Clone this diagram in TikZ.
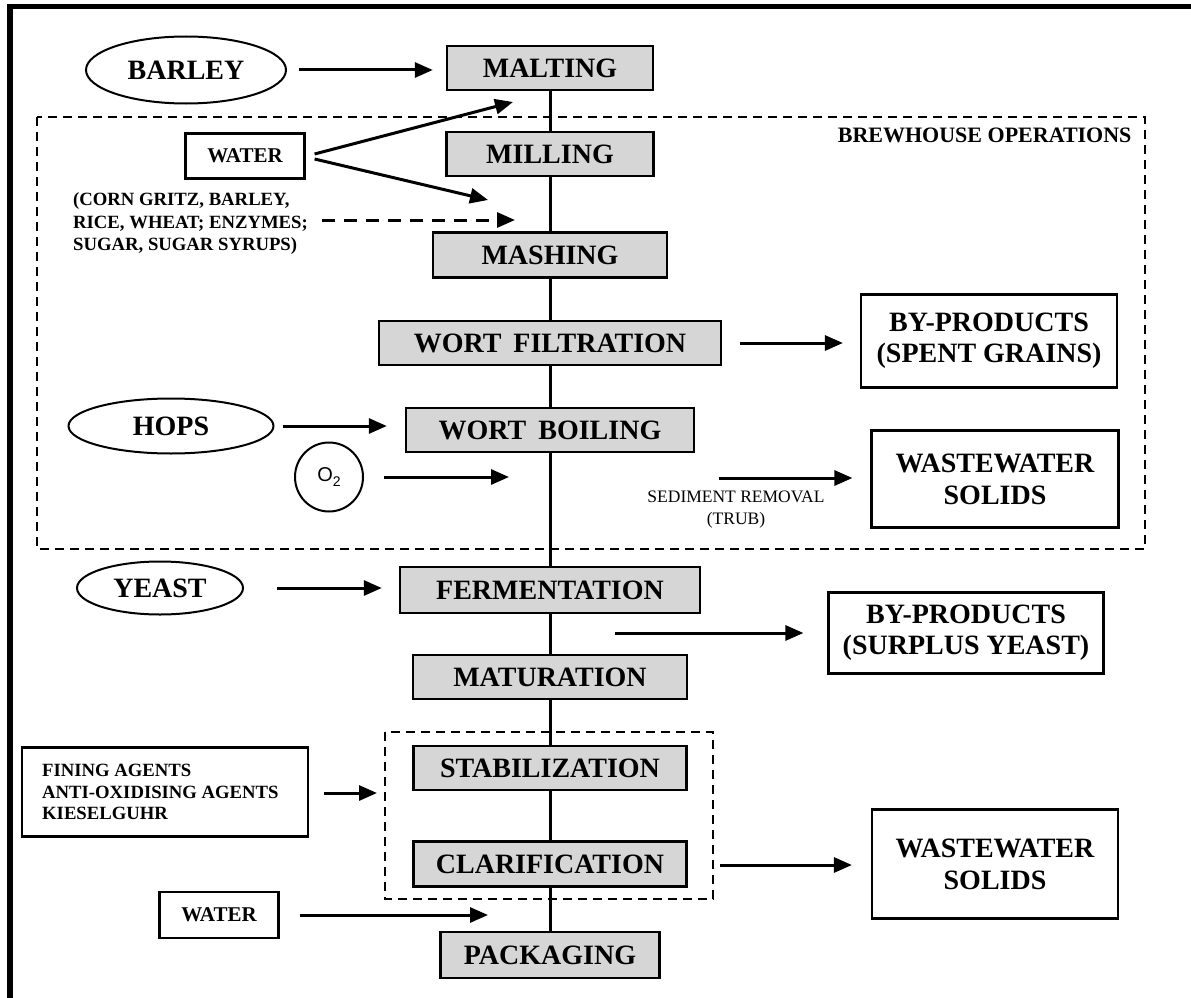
\documentclass[tikz,border=0pt]{standalone}
\usepackage{fontspec}
\setmainfont{Liberation Serif}
\newfontfamily\sansf{Liberation Sans}
\usetikzlibrary{arrows.meta,shapes.geometric}
\definecolor{boxgray}{RGB}{214,214,214}
\begin{document}
\begin{tikzpicture}[x=1pt,y=-1pt,
  proc/.style={draw, line width=2.4pt, fill=boxgray, inner sep=0pt, font=\fontsize{28}{30}\selectfont\bfseries},
  wbox/.style={draw, line width=2.2pt, fill=white, inner sep=0pt, align=center, font=\fontsize{28}{31}\selectfont\bfseries},
  oval/.style={draw, ellipse, line width=2pt, inner sep=0pt, font=\fontsize{28}{30}\selectfont\bfseries},
  arr/.style={line width=3pt, -{Triangle[length=18pt,width=15pt]}},
  darr/.style={line width=3pt, dash pattern=on 13pt off 9pt, -{Triangle[length=18pt,width=15pt]}},
  grp/.style={draw, line width=2pt, dash pattern=on 9pt off 6pt},
  flow/.style={line width=3pt}]
\useasboundingbox (0,0) rectangle (1191,998);
% frame
\fill (7,4) rectangle (1191,9);
\fill (7,4) rectangle (13,998);
% dashed groups
\draw[grp] (37,117) rectangle (1145,549);
\draw[grp] (385,732) rectangle (713,899);
\node[anchor=east, font=\fontsize{22}{24}\selectfont\bfseries] (brew) at (1135,135) {BREWHOUSE OPERATIONS};
% process chain
\node[proc, minimum width=206pt, minimum height=44pt] (malt) at (550,68) {MALTING};
\node[proc, minimum width=207pt, minimum height=44pt] (mill) at (550,154) {MILLING};
\node[proc, minimum width=234pt, minimum height=45pt] (mash) at (550,255) {MASHING};
\node[proc, minimum width=342pt, minimum height=44pt] (wf) at (550,343) {WORT\hspace{12pt}FILTRATION};
\node[proc, minimum width=288pt, minimum height=44pt] (wb) at (550,430) {WORT\hspace{12pt}BOILING};
\node[proc, minimum width=300pt, minimum height=46pt] (ferm) at (550,590) {FERMENTATION};
\node[proc, minimum width=274pt, minimum height=44pt] (mat) at (550,677) {MATURATION};
\node[proc, minimum width=273pt, minimum height=44pt] (stab) at (550,768) {STABILIZATION};
\node[proc, minimum width=273pt, minimum height=45pt] (clar) at (550,864) {CLARIFICATION};
\node[proc, minimum width=219pt, minimum height=46pt] (pack) at (550,955) {PACKAGING};
\foreach \a/\b in {malt/mill, mill/mash, mash/wf, wf/wb, wb/ferm, ferm/mat, mat/stab, stab/clar, clar/pack}
  \draw[flow] (\a.south) -- (\b.north);
% inputs
\node[oval, minimum width=200pt, minimum height=67pt] (barley) at (186,70) {BARLEY};
\node[oval, minimum width=205pt, minimum height=55pt] (hops) at (171,426) {HOPS};
\node[oval, minimum width=166pt, minimum height=53pt] (yeast) at (160,588) {YEAST};
\node[draw, ellipse, line width=2pt, minimum width=68pt, minimum height=69pt, inner sep=0pt, font=\sansf\fontsize{20}{22}\selectfont] (o2) at (329,477) {O\raisebox{-5pt}{\fontsize{14}{14}\selectfont 2}};
\node[wbox, minimum width=119pt, minimum height=45pt, font=\fontsize{21}{23}\selectfont\bfseries] (water) at (245,156) {WATER};
\node[wbox, minimum width=119pt, minimum height=46pt, font=\fontsize{21}{23}\selectfont\bfseries] (water2) at (219,915) {WATER};
\node[anchor=west, align=left, inner sep=0pt, font=\fontsize{18.7}{22.5}\selectfont\bfseries] (adj) at (73,224) {(CORN GRITZ, BARLEY,\\RICE, WHEAT; ENZYMES;\\SUGAR, SUGAR SYRUPS)};
\node[draw, line width=2.2pt, minimum width=286pt, minimum height=89pt, inner sep=0pt] (fining) at (165,792) {};
\node[anchor=west, align=left, inner sep=0pt, font=\fontsize{18.7}{21.5}\selectfont\bfseries] (fintext) at (42,792) {FINING AGENTS\\ANTI-OXIDISING AGENTS\\KIESELGUHR};
% outputs
\node[wbox, minimum width=256pt, minimum height=93pt] (spent) at (989,341) {BY-PRODUCTS\\(SPENT GRAINS)};
\node[wbox, minimum width=247pt, minimum height=97pt, font=\fontsize{28}{32}\selectfont\bfseries] (ww1) at (995,479) {WASTEWATER\\SOLIDS};
\node[wbox, minimum width=275pt, minimum height=81pt] (surplus) at (966,633) {BY-PRODUCTS\\(SURPLUS YEAST)};
\node[wbox, minimum width=246pt, minimum height=109pt, font=\fontsize{28}{32}\selectfont\bfseries] (ww2) at (995,864) {WASTEWATER\\SOLIDS};
\node[align=center, inner sep=0pt, font=\fontsize{17.5}{22}\selectfont] (sedtext) at (736,510) {SEDIMENT REMOVAL\\(TRUB)};
% free ends
\coordinate (wu) at (513,102);
\coordinate (wl) at (488,200);
\coordinate (adjend) at (515,220);
\coordinate (o2end) at (509,477);
\coordinate (sed) at (719,478);
\coordinate (fermout) at (615,633);
\coordinate (w2end) at (488,915);
\coordinate (stabgrp) at (385,793);
\coordinate (clargrp) at (713,865);
% arrows
\draw[arr] ([xshift=12pt]barley.east) -- ([xshift=-13pt]barley.east -| malt.west);
\draw[arr] ([xshift=9pt,yshift=2pt]water.east) -- (wu);
\draw[arr] ([xshift=9pt,yshift=-3pt]water.east) -- (wl);
\draw[darr] ([xshift=14pt]adj.east |- adjend) -- (adjend);
\draw[arr] ([xshift=18pt]wf.east) -- ([xshift=-17pt]wf.east -| spent.west);
\draw[arr] ([xshift=8pt]hops.east) -- ([xshift=-18pt]hops.east -| wb.west);
\draw[arr] ([xshift=20pt]o2.east) -- (o2end);
\draw[arr] (sed) -- ([xshift=-18pt]sed -| ww1.west);
\draw[arr] ([xshift=33pt]yeast.east) -- ([xshift=-17pt]yeast.east -| ferm.west);
\draw[arr] (fermout) -- ([xshift=-24pt]fermout -| surplus.west);
\draw[arr] ([xshift=15pt]fining.east |- stabgrp) -- ([xshift=-8pt]stabgrp);
\draw[arr] ([xshift=7pt]clargrp) -- ([xshift=-19pt]clargrp -| ww2.west);
\draw[arr] ([xshift=20pt]water2.east) -- (w2end);
\end{tikzpicture}
\end{document}
